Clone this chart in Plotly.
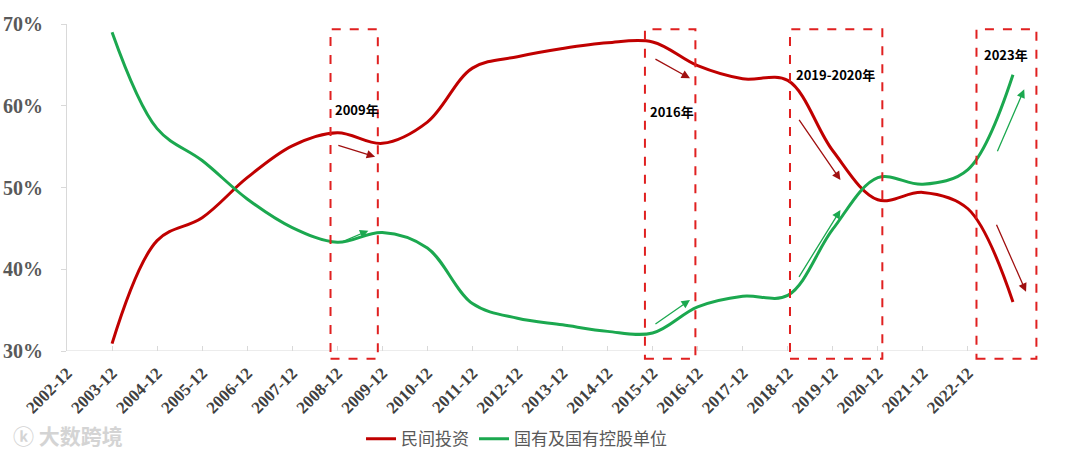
import plotly.graph_objects as go

axis_labels = [f"{y}-12" for y in range(2002, 2024)]
periods = [f"{y}-12" for y in range(2003, 2024)]
private_inv = [30.9, 43.5, 46.3, 51.2, 55.1, 56.7, 55.4, 58.0, 64.6, 66.0, 67.0,
               67.7, 67.8, 64.9, 63.3, 63.1, 54.5, 48.5, 49.4, 47.4, 36.0]
state_inv = [69.0, 57.2, 53.3, 48.6, 45.1, 43.3, 44.5, 42.6, 35.8, 34.0, 33.2,
             32.4, 32.2, 35.4, 36.7, 36.8, 44.9, 51.2, 50.4, 52.2, 63.8]
series_names = ["民间投资", "国有及国有控股单位"]
y_ticks = [30, 40, 50, 60, 70]

RED = "#C00000"
GREEN = "#1BA84F"
BOX = "#E02020"

fig = go.Figure()
fig.add_trace(go.Scatter(x=periods, y=private_inv, name=series_names[0], mode="lines",
                         line=dict(color=RED, width=3, shape="spline", smoothing=1.0)))
fig.add_trace(go.Scatter(x=periods, y=state_inv, name=series_names[1], mode="lines",
                         line=dict(color=GREEN, width=3, shape="spline", smoothing=1.0)))

# highlight boxes (category-index x, paper y so they can extend below the axis)
boxes = [(5.85, 6.90), (12.83, 13.95), (16.05, 18.10), (20.19, 21.52)]
for x0, x1 in boxes:
    fig.add_shape(type="rect", xref="x", yref="paper", x0=x0, x1=x1, y0=-0.024, y1=0.984,
                  line=dict(color=BOX, width=2, dash="dash"), fillcolor="rgba(0,0,0,0)",
                  layer="above")

# x-axis baseline
fig.add_shape(type="line", xref="x", yref="y", x0=0, x1=21, y0=30, y1=30,
              line=dict(color="#D9D9D9", width=1), layer="below")

labels = [("2009年", 6.43, 59.57), ("2016年", 13.44, 59.27),
          ("2019-2020年", 17.07, 63.88), ("2023年", 20.85, 66.21)]
for t, x, y in labels:
    fig.add_annotation(x=x, y=y, xref="x", yref="y", text=f"<b>{t}</b>", showarrow=False,
                       font=dict(family="Noto Sans CJK SC", size=13, color="#000000"))

arrows = [  # (tail x, tail y, head x, head y, color)
    (5.99, 55.20, 6.84, 53.77, "#A01010"),
    (6.06, 43.25, 6.69, 44.72, GREEN),
    (13.03, 65.80, 13.83, 63.36, "#A01010"),
    (13.03, 33.18, 13.83, 36.24, GREEN),
    (16.23, 58.47, 17.17, 50.92, "#A01010"),
    (16.23, 38.89, 17.17, 47.25, GREEN),
    (20.64, 54.26, 21.25, 62.01, GREEN),
    (20.62, 45.62, 21.29, 37.25, "#A01010"),
]
for ax, ay, hx, hy, c in arrows:
    fig.add_annotation(x=hx, y=hy, ax=ax, ay=ay, xref="x", yref="y", axref="x", ayref="y",
                       text="", showarrow=True, arrowhead=2, arrowsize=1.3, arrowwidth=1.3,
                       arrowcolor=c, standoff=0, startstandoff=0)

# watermark
fig.add_annotation(x=-0.058, y=-0.31, xref="paper", yref="paper", xanchor="left", yanchor="bottom",
                   text="<b>ⓚ 大数跨境</b>", showarrow=False,
                   font=dict(family="Noto Sans CJK SC", size=21, color="#D4D4D4"))

fig.update_layout(
    width=1080, height=464,
    margin=dict(l=67, r=40, t=24, b=113, autoexpand=False),
    paper_bgcolor="white", plot_bgcolor="white",
    showlegend=True,
    legend=dict(orientation="h", x=0.462, xanchor="center", y=-0.215, yanchor="top",
                font=dict(family="Noto Sans CJK SC", size=17, color="#595959"),
                itemwidth=30, tracegroupgap=0),
    xaxis=dict(type="category", categoryorder="array", categoryarray=axis_labels,
               range=[0, 21.6], tickvals=axis_labels[:21], ticktext=axis_labels[:21],
               tickangle=-45, ticks="inside", ticklen=5, tickcolor="#D9D9D9",
               showline=False, showgrid=False, zeroline=False, automargin=False,
               ticklabelstandoff=8,
               tickfont=dict(family="Liberation Serif", size=17, color="#404040", weight="bold")),
    yaxis=dict(range=[30, 70], tickvals=y_ticks, ticktext=[f"{v}%" for v in y_ticks],
               showline=True, linecolor="#D9D9D9", linewidth=1, ticks="outside", ticklen=5,
               tickcolor="#D9D9D9", showgrid=False, zeroline=False, ticklabelstandoff=14,
               automargin=False,
               tickfont=dict(family="Liberation Serif", size=20, color="#595959", weight="bold")),
)

fig.write_html("out.html", config={"displayModeBar": False},
               post_script="document.body.style.margin='0';")
